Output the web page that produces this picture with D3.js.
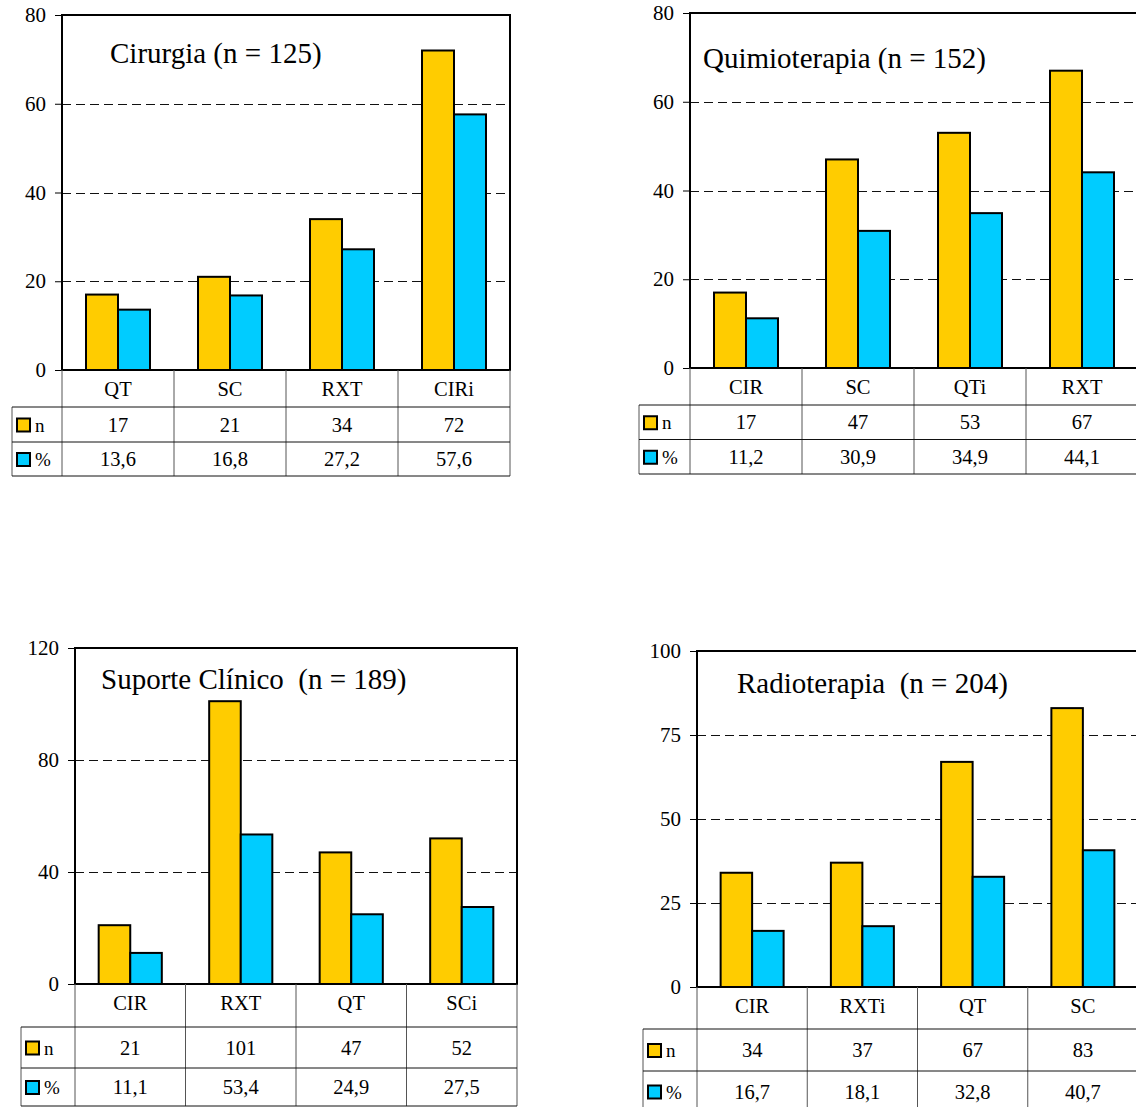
<!DOCTYPE html>
<html>
<head>
<meta charset="utf-8">
<script src="https://cdn.jsdelivr.net/npm/d3@7"></script>
<style>
  html, body { margin: 0; padding: 0; background: #fff; }
  svg { display: block; }
  svg text { font-family: "Liberation Serif", "Times New Roman", Times, serif; }
</style>
</head>
<body>
<svg id="chart" width="1136" height="1107"></svg>
<script>
// Cirurgia
const cirCategories = ["QT", "SC", "RXT", "CIRi"];
const cirN = [17, 21, 34, 72];
const cirPct = [13.6, 16.8, 27.2, 57.6];
const cirTicks = [0, 20, 40, 60, 80];

// Quimioterapia
const qtCategories = ["CIR", "SC", "QTi", "RXT"];
const qtN = [17, 47, 53, 67];
const qtPct = [11.2, 30.9, 34.9, 44.1];
const qtTicks = [0, 20, 40, 60, 80];

// Suporte Clínico
const scCategories = ["CIR", "RXT", "QT", "SCi"];
const scN = [21, 101, 47, 52];
const scPct = [11.1, 53.4, 24.9, 27.5];
const scTicks = [0, 40, 80, 120];

// Radioterapia
const rxtCategories = ["CIR", "RXTi", "QT", "SC"];
const rxtN = [34, 37, 67, 83];
const rxtPct = [16.7, 18.1, 32.8, 40.7];
const rxtTicks = [0, 25, 50, 75, 100];

const seriesNames = ["n", "%"];
const seriesColors = ["#FFCC00", "#00CCFF"];

// Panel layout: plot box, table row boundaries, legend column, title anchor
const panels = [
  { title: "Cirurgia (n = 125)", categories: cirCategories, n: cirN, pct: cirPct, ticks: cirTicks,
    box: { left: 62, right: 510, top: 15, bottom: 370 }, rows: [407, 442, 476], legendLeft: 12, titlePos: [110, 63] },
  { title: "Quimioterapia (n = 152)", categories: qtCategories, n: qtN, pct: qtPct, ticks: qtTicks,
    box: { left: 690, right: 1138, top: 13, bottom: 368 }, rows: [405, 439.5, 474], legendLeft: 639, titlePos: [703, 68] },
  { title: "Suporte Clínico  (n = 189)", categories: scCategories, n: scN, pct: scPct, ticks: scTicks,
    box: { left: 75, right: 517, top: 648, bottom: 984 }, rows: [1027, 1068, 1106], legendLeft: 21, titlePos: [101, 689] },
  { title: "Radioterapia  (n = 204)", categories: rxtCategories, n: rxtN, pct: rxtPct, ticks: rxtTicks,
    box: { left: 697, right: 1138, top: 651, bottom: 987 }, rows: [1029, 1071, 1112], legendLeft: 643, titlePos: [737, 693] }
];

const svg = d3.select("#chart");
svg.append("rect").attr("width", 1136).attr("height", 1107).attr("fill", "#fff");

const fmtPct = v => d3.format(".1f")(v).replace(".", ",");
const fmtN = d3.format("d");
const FONT = '"Liberation Serif", "Times New Roman", Times, serif';

function drawPanel(p) {
  const g = svg.append("g");
  const { left, right, top, bottom } = p.box;

  const y = d3.scaleLinear().domain([0, d3.max(p.ticks)]).range([bottom, top]);
  const x = d3.scaleBand().domain(p.categories).range([left, right]).paddingInner(0).paddingOuter(0);
  const bw = x.bandwidth();
  const barW = bw / 3.5;
  const x1 = d3.scaleBand().domain(seriesNames).range([0.75 * barW, 2.75 * barW]);

  // dashed gridlines (interior ticks only)
  g.append("g").selectAll("line")
    .data(p.ticks.slice(1, -1))
    .join("line")
    .attr("x1", left).attr("x2", right)
    .attr("y1", d => Math.round(y(d)) + 0.5).attr("y2", d => Math.round(y(d)) + 0.5)
    .attr("stroke", "#111").attr("stroke-width", 1)
    .attr("stroke-dasharray", "9,5");

  // value axis
  const axis = d3.axisLeft(y).tickValues(p.ticks).tickSize(7).tickPadding(9).tickFormat(fmtN);
  const ag = g.append("g").attr("transform", `translate(${left},0)`).call(axis);
  ag.select(".domain").remove();
  ag.attr("font-family", null).attr("font-size", null);
  ag.selectAll("text")
    .style("font-family", FONT).style("font-size", "21px")
    .attr("fill", "#000");
  ag.selectAll("line").attr("stroke", "#000");

  // bars
  const groups = p.categories.map((c, i) => ({ cat: c, vals: [p.n[i], p.pct[i]] }));
  g.append("g").selectAll("g")
    .data(groups)
    .join("g")
    .attr("transform", d => `translate(${x(d.cat)},0)`)
    .selectAll("rect")
    .data(d => d.vals.map((v, j) => ({ s: seriesNames[j], v, c: seriesColors[j] })))
    .join("rect")
    .attr("x", d => x1(d.s))
    .attr("width", x1.bandwidth())
    .attr("y", d => y(d.v))
    .attr("height", d => y(0) - y(d.v))
    .attr("fill", d => d.c)
    .attr("stroke", "#000")
    .attr("stroke-width", 2);

  // plot frame
  g.append("rect")
    .attr("x", left).attr("y", top)
    .attr("width", right - left).attr("height", bottom - top)
    .attr("fill", "none").attr("stroke", "#000").attr("stroke-width", 2);

  // title
  g.append("text")
    .attr("x", p.titlePos[0]).attr("y", p.titlePos[1])
    .style("font-family", FONT).style("font-size", "29px")
    .style("white-space", "pre")
    .attr("fill", "#000")
    .text(p.title);

  // data table
  const t = g.append("g");
  const [hdrB, nB, pB] = p.rows;
  const bounds = p.categories.map(c => x(c)).concat([right]);

  // vertical separators
  t.selectAll("line.v")
    .data(bounds)
    .join("line").attr("class", "v")
    .attr("x1", d => d).attr("x2", d => d)
    .attr("y1", bottom).attr("y2", pB)
    .attr("stroke", "#555").attr("stroke-width", 1);
  t.append("line")
    .attr("x1", p.legendLeft).attr("x2", p.legendLeft)
    .attr("y1", hdrB).attr("y2", pB)
    .attr("stroke", "#555").attr("stroke-width", 1);

  // horizontal rules
  t.selectAll("line.h")
    .data([hdrB, nB, pB])
    .join("line").attr("class", "h")
    .attr("x1", p.legendLeft).attr("x2", right)
    .attr("y1", d => d).attr("y2", d => d)
    .attr("stroke", "#111").attr("stroke-width", 1);

  // category header
  t.selectAll("text.cat")
    .data(p.categories)
    .join("text").attr("class", "cat")
    .attr("x", d => x(d) + bw / 2)
    .attr("y", bottom + 26)
    .attr("text-anchor", "middle")
    .style("font-family", FONT).style("font-size", "20.5px")
    .text(d => d);

  // series rows
  const rowDefs = [
    { name: seriesNames[0], color: seriesColors[0], top: hdrB, bot: nB, vals: p.n, fmt: fmtN },
    { name: seriesNames[1], color: seriesColors[1], top: nB, bot: pB, vals: p.pct, fmt: fmtPct }
  ];
  rowDefs.forEach(r => {
    const base = (r.top + r.bot) / 2 + 7;
    t.append("rect")
      .attr("x", p.legendLeft + 5).attr("y", base - 13)
      .attr("width", 13).attr("height", 13)
      .attr("fill", r.color).attr("stroke", "#000").attr("stroke-width", 2);
    t.append("text")
      .attr("x", p.legendLeft + 23).attr("y", base)
      .style("font-family", FONT).style("font-size", "19px")
      .text(r.name);
    t.selectAll(null)
      .data(p.categories.map((c, i) => ({ c, v: r.vals[i] })))
      .join("text")
      .attr("x", d => x(d.c) + bw / 2)
      .attr("y", base)
      .attr("text-anchor", "middle")
      .style("font-family", FONT).style("font-size", "20.5px")
      .text(d => r.fmt(d.v));
  });
}

panels.forEach(drawPanel);
</script>
</body>
</html>
